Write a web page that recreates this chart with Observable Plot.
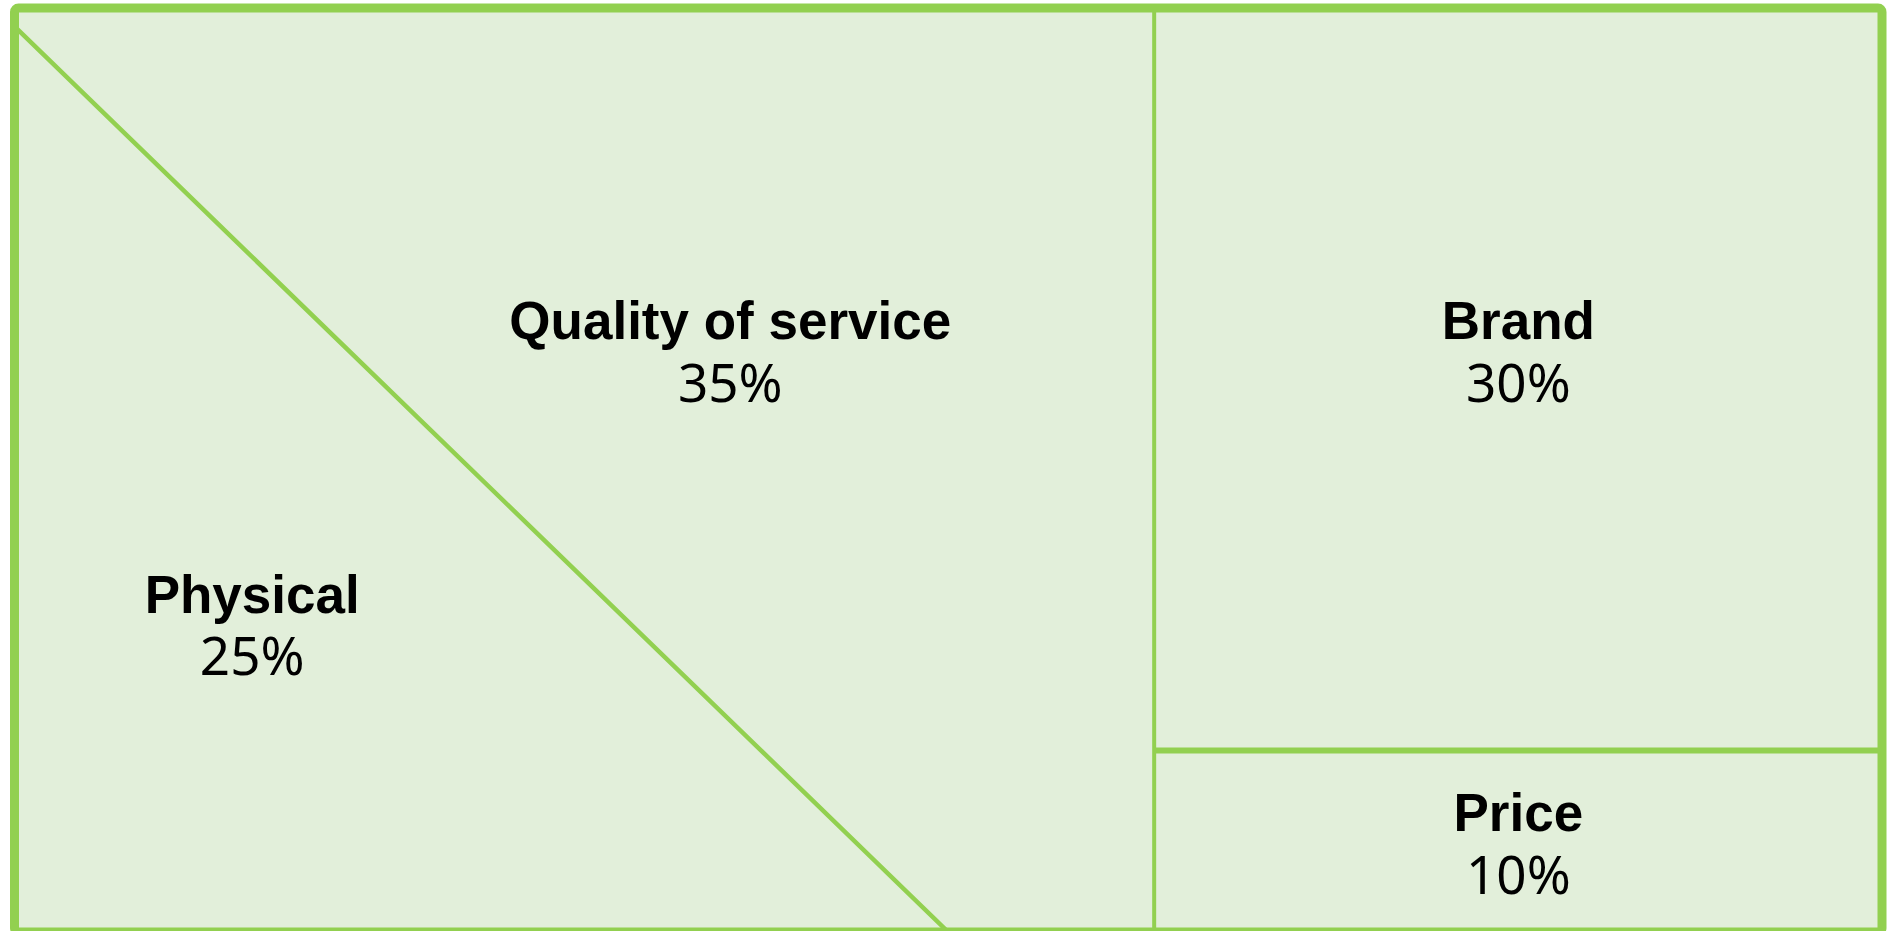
<!DOCTYPE html>
<html><head><meta charset="utf-8">
<script src="https://cdn.jsdelivr.net/npm/d3@7"></script>
<script src="https://cdn.jsdelivr.net/npm/@observablehq/plot@0.6"></script>
<style>html,body{margin:0;padding:0;background:#fff;overflow:hidden}</style>
</head><body><div id="chart"></div>
<script>
// ---- data ----
const categories = ["Physical", "Quality of service", "Brand", "Price"];
const shares = [25, 35, 30, 10];
const valueLabels = shares.map(d => d + "%");

// ---- layout, in percent units of the diagram ----
const columnSplit = 61;   // left block (Physical + Quality) | right column
const rowSplit = 80.3;    // Brand above, Price below
const diagTop = 2;        // diagonal starts on the left edge here
const diagBottom = 50;    // ...and ends on the bottom edge here
const anchors = {
  "Physical":           {ax: 12.7, ty: 63.6, vy: 70.3},
  "Quality of service": {ax: 38.3, ty: 33.9, vy: 40.8},
  "Brand":              {ax: 80.5, ty: 33.9, vy: 40.8},
  "Price":              {ax: 80.5, ty: 87.2, vy: 94.0}
};
const labels = categories.map((c, i) => ({name: c, label: valueLabels[i], ...anchors[c]}));

const fill = "#E2EFDA", stroke = "#92D050";

const physical = [{x: 0, y1: diagTop, y2: 100}, {x: diagBottom, y1: 100, y2: 100}];
const quality = [{x: 0, y1: 0, y2: diagTop}, {x: diagBottom, y1: 0, y2: 100}, {x: columnSplit, y1: 0, y2: 100}];
const rects = [
  {name: "Brand", x1: columnSplit, x2: 100, y1: 0, y2: rowSplit},
  {name: "Price", x1: columnSplit, x2: 100, y1: rowSplit, y2: 100}
];

const chart = Plot.plot({
  width: 1896, height: 931, margin: 0,
  style: {background: "transparent", overflow: "visible"},
  x: {type: "linear", domain: [0, 100], range: [14.5, 1882], axis: null},
  y: {type: "linear", domain: [0, 100], range: [8, 932], axis: null},
  marks: [
    Plot.area(physical, {x1: "x", y1: "y1", y2: "y2", fill}),
    Plot.area(quality, {x1: "x", y1: "y1", y2: "y2", fill}),
    Plot.rect(rects, {x1: "x1", x2: "x2", y1: "y1", y2: "y2", fill}),
    Plot.line([{x: 0, y: diagTop}, {x: diagBottom, y: 100}], {x: "x", y: "y", stroke, strokeWidth: 4.5}),
    Plot.ruleX([columnSplit], {y1: 0, y2: 100, stroke, strokeWidth: 4}),
    Plot.ruleY([rowSplit], {x1: columnSplit, x2: 100, stroke, strokeWidth: 6}),
    Plot.rect([{}], {x1: 0, x2: 100, y1: 0, y2: 100, fill: "none", stroke, strokeWidth: 9, rx: 4, strokeLinejoin: "round"}),
    Plot.text(labels, {x: "ax", y: "ty", text: "name", fontSize: 53, fontWeight: "bold",
      fontFamily: "Liberation Sans, Arial, sans-serif", fill: "black", textAnchor: "middle", lineAnchor: "middle"}),
    Plot.text(labels, {x: "ax", y: "vy", text: "label", fontSize: 53, fontWeight: "normal",
      fontFamily: "Noto Sans, sans-serif", fill: "black", textAnchor: "middle", lineAnchor: "middle"})
  ]
});
document.getElementById("chart").appendChild(chart);
</script>
</body></html>
